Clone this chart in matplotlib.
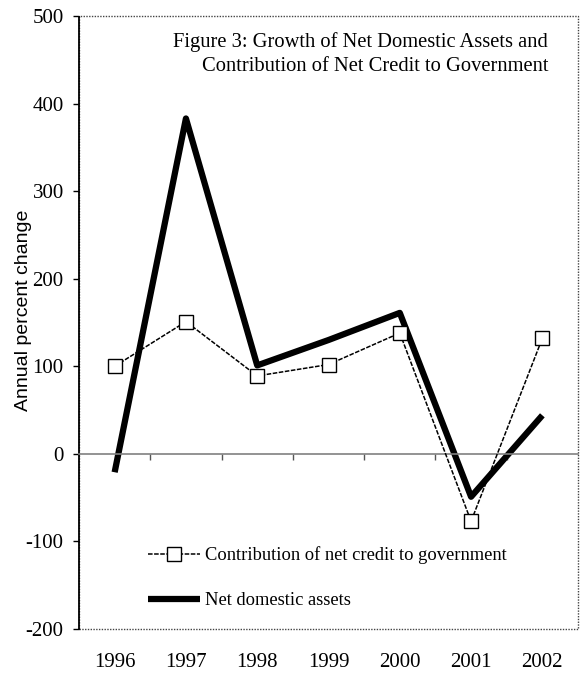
import numpy as np
import matplotlib
matplotlib.use("Agg")
import matplotlib.pyplot as plt
from matplotlib.patches import Rectangle

years = ["1996", "1997", "1998", "1999", "2000", "2001", "2002"]
contribution = [100, 151, 89, 102, 138, -77, 132]
net_domestic_assets = [-21, 383, 101, 130, 161, -49, 44]
y_ticks = [-200, -100, 0, 100, 200, 300, 400, 500]
title_lines = ["Figure 3: Growth of Net Domestic Assets and",
               "Contribution of Net Credit to Government"]
label_contrib = "Contribution of net credit to government"
label_nda = "Net domestic assets"
ylabel = "Annual percent change"

serif = ["Liberation Serif", "DejaVu Serif"]
sans = ["Liberation Sans", "DejaVu Sans"]

fig = plt.figure(figsize=(5.81, 6.75), dpi=100)
ax = fig.add_axes([79/581, 46/675, 499/581, 613/675])

x = np.arange(len(years))
ax.plot(x, contribution, color="black", lw=1.1, ls=(0, (3, 1)),
        marker="s", markersize=10, markerfacecolor="white",
        markeredgecolor="black", markeredgewidth=1.0, label=label_contrib, zorder=3)
ax.plot(x, net_domestic_assets, color="black", lw=4.5, solid_capstyle="butt",
        label=label_nda, zorder=2)

ax.set_xlim(-0.5, len(years) - 0.5)
ax.set_ylim(-200, 500)

# y axis
ax.set_yticks(y_ticks)
ax.set_yticklabels([str(v) for v in y_ticks], fontsize=15, family=serif)
ax.tick_params(axis="y", direction="out", length=4, width=1, pad=7, color="black")
ax.spines["left"].set_linestyle((0, (1, 1)))
ax.spines["left"].set_linewidth(1.3)
ax.spines["right"].set_visible(False)
ax.spines["top"].set_visible(False)

# zero line as x-axis with boundary ticks
ax.spines["bottom"].set_position(("data", 0))
ax.spines["bottom"].set_color("#808080")
ax.spines["bottom"].set_linewidth(1.2)
ax.set_xticks([])
ax.set_xticks(x[:-1] + 0.5, minor=True)
ax.tick_params(axis="x", which="minor", direction="out", length=4, width=1, color="#555555")

# year labels at the bottom
sec = ax.secondary_xaxis(0)
sec.set_xticks(x)
sec.set_xticklabels(years, fontsize=15, family=serif)
sec.tick_params(length=0, pad=17)
sec.spines["bottom"].set_visible(False)

# dotted frame
ax.add_patch(Rectangle((0, 0), 1, 1, transform=ax.transAxes, fill=False,
                       edgecolor="#444444", lw=1.0, ls=(0, (1, 1)), clip_on=False, zorder=1))

ax.set_ylabel(ylabel, fontsize=14, family=sans)
ax.yaxis.set_label_coords(-0.095, 0.52)

ax.text(0.94, 0.974, title_lines[0] + "\n" + title_lines[1], transform=ax.transAxes,
        ha="right", va="top", fontsize=14.8, family=serif, linespacing=1.35,
        multialignment="right")

leg = ax.legend(loc="upper left", bbox_to_anchor=(0.138, 0.135), frameon=False,
                prop={"family": serif, "size": 13.3},
                handlelength=2.8, handletextpad=0.3, labelspacing=1.52,
                borderpad=0, borderaxespad=0)

fig.savefig("out.png", dpi=100)
